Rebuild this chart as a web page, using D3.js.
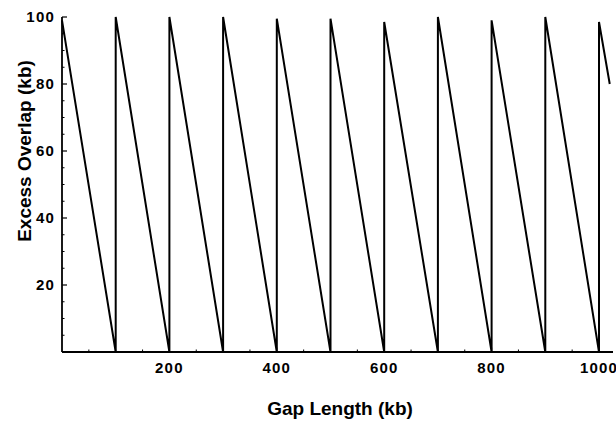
<!DOCTYPE html>
<html><head><meta charset="utf-8">
<script src="https://cdn.jsdelivr.net/npm/d3@7"></script>
<style>body{margin:0;background:#fff}svg{display:block}</style>
</head><body>
<script>
// Sawtooth vertices (Gap Length kb, Excess Overlap kb)
const gapX    = [0, 100, 100, 200, 200, 300, 300, 400, 400, 500, 500, 600, 600, 700, 700, 800, 800, 900, 900, 1000, 1000, 1020];
const overlapY = [99, 0, 100, 0, 100, 0, 100, 0, 99.5, 0, 99.5, 0, 98.5, 0, 100, 0, 99, 0, 100, 0, 98.5, 80];
const xTicks = [200, 400, 600, 800, 1000];
const yTicks = [20, 40, 60, 80, 100];
const xTitle = "Gap Length (kb)";
const yTitle = "Excess Overlap (kb)";

const W = 616, H = 421;
const svg = d3.select("body").append("svg").attr("width", W).attr("height", H);
const x = d3.scaleLinear().domain([0, 1000]).range([62, 599]);
const y = d3.scaleLinear().domain([0, 100]).range([352, 17]);
const FONT = "Liberation Sans, Arial, Helvetica, sans-serif";

// axes lines
svg.append("line").attr("x1", x(0)).attr("x2", 613).attr("y1", y(0)).attr("y2", y(0))
  .attr("stroke", "#000").attr("stroke-width", 1.8);
svg.append("line").attr("x1", x(0)).attr("x2", x(0)).attr("y1", y(0)).attr("y2", y(100))
  .attr("stroke", "#000").attr("stroke-width", 1.8);

// x ticks
const xMinor = d3.range(50, 1020, 50).filter(v => !xTicks.includes(v));
svg.selectAll(".xmin").data(xMinor).enter().append("line")
  .attr("x1", d => x(d)).attr("x2", d => x(d)).attr("y1", y(0)).attr("y2", y(0) - 2.5)
  .attr("stroke", "#000").attr("stroke-width", 1);
svg.selectAll(".xmaj").data(xTicks).enter().append("line")
  .attr("x1", d => x(d)).attr("x2", d => x(d)).attr("y1", y(0)).attr("y2", y(0) - 4.5)
  .attr("stroke", "#000").attr("stroke-width", 1.2);
svg.selectAll(".xl").data(xTicks).enter().append("text")
  .attr("x", d => x(d)).attr("y", 373).attr("text-anchor", "middle")
  .attr("font-family", FONT).attr("font-weight", "bold")
  .attr("font-size", 15).attr("letter-spacing", 1.2).text(d => d);

// y ticks
const yMinor = d3.range(5, 100, 5).filter(v => !yTicks.includes(v));
svg.selectAll(".ymin").data(yMinor).enter().append("line")
  .attr("x1", x(0)).attr("x2", x(0) + 2.5).attr("y1", d => y(d)).attr("y2", d => y(d))
  .attr("stroke", "#000").attr("stroke-width", 1);
svg.selectAll(".ymaj").data(yTicks).enter().append("line")
  .attr("x1", x(0)).attr("x2", x(0) + 5).attr("y1", d => y(d)).attr("y2", d => y(d))
  .attr("stroke", "#000").attr("stroke-width", 1.2);
svg.selectAll(".yl").data(yTicks).enter().append("text")
  .attr("x", 55).attr("y", d => y(d) + 5).attr("text-anchor", "end")
  .attr("font-family", FONT).attr("font-weight", "bold")
  .attr("font-size", 15).attr("letter-spacing", 1.2).text(d => d);

// titles
svg.append("text").attr("x", 340).attr("y", 415).attr("text-anchor", "middle")
  .attr("font-family", FONT).attr("font-weight", "bold").attr("font-size", 19).text(xTitle);
svg.append("text").attr("transform", "translate(31,151) rotate(-90)").attr("text-anchor", "middle")
  .attr("font-family", FONT).attr("font-weight", "bold").attr("font-size", 19).text(yTitle);

// sawtooth line
const pts = gapX.map((g, i) => [g, overlapY[i]]);
svg.append("path").datum(pts)
  .attr("d", d3.line().x(d => x(d[0])).y(d => y(d[1])))
  .attr("fill", "none").attr("stroke", "#000").attr("stroke-width", 2).attr("stroke-linejoin", "miter");
</script>
</body></html>
